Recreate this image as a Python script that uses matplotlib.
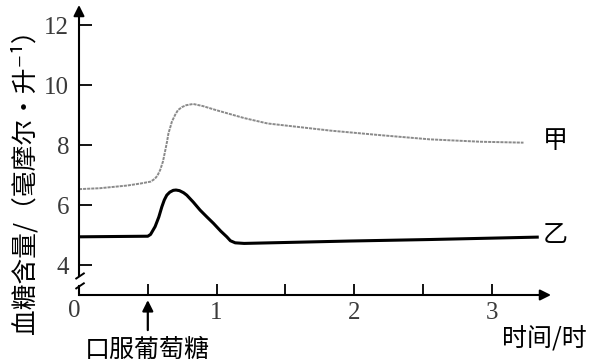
import matplotlib
matplotlib.use('Agg')
import matplotlib.pyplot as plt

# CJK font first, DejaVu for the superscript signs it lacks
plt.rcParams['font.family'] = ['Noto Sans CJK SC', 'DejaVu Sans']

# curve 甲 (grey)
jia_t = [0.0, 0.15, 0.35, 0.45, 0.52, 0.55, 0.57, 0.59, 0.61, 0.625, 0.64, 0.65,
         0.665, 0.675, 0.70, 0.72, 0.75, 0.78, 0.83, 0.9,
         1.0, 1.2, 1.37, 1.6, 1.83, 2.19, 2.55, 2.92, 3.23]
jia_v = [6.53, 6.56, 6.65, 6.72, 6.78, 6.87, 6.98, 7.17, 7.45, 7.78, 8.12, 8.39,
         8.62, 8.78, 9.02, 9.17, 9.27, 9.33, 9.37, 9.3,
         9.16, 8.9, 8.72, 8.6, 8.48, 8.33, 8.19, 8.11, 8.08]

# curve 乙 (black)
yi_t = [0.0, 0.5, 0.52, 0.553, 0.58, 0.602, 0.62, 0.638, 0.66, 0.685, 0.705,
        0.73, 0.76, 0.783, 0.83, 0.88, 0.93, 0.977, 1.03, 1.074, 1.1, 1.135,
        1.2, 1.97, 2.55, 3.33]
yi_v = [4.94, 4.96, 5.02, 5.28, 5.6, 5.94, 6.17, 6.33, 6.43, 6.49, 6.5,
        6.48, 6.41, 6.33, 6.1, 5.83, 5.6, 5.39, 5.13, 4.94, 4.81, 4.74,
        4.72, 4.8, 4.85, 4.93]

y_ticks = [4, 6, 8, 10, 12]
x_ticks = [0.5, 1, 1.5, 2, 2.5, 3]
x_labels = ['', '1', '', '2', '', '3']

xmax = 3.43
ymin, ymax = 3, 12.67

fig = plt.figure(figsize=(6.04, 3.62), dpi=100)
ax = fig.add_axes([79 / 604, 67 / 362, 472 / 604, 290 / 362])
ax.set_xlim(0, xmax)
ax.set_ylim(ymin, ymax)
for s in ax.spines.values():
    s.set_visible(False)

serif = ['Liberation Serif', 'DejaVu Serif']

ax.set_xticks(x_ticks)
ax.set_xticklabels(x_labels)
ax.set_yticks(y_ticks)
ax.set_yticklabels([str(v) for v in y_ticks])
for lab in ax.get_xticklabels() + ax.get_yticklabels():
    lab.set_fontfamily(serif)
    lab.set_fontsize(18)
    lab.set_color('#3a3a3a')
ax.tick_params(axis='x', direction='in', length=8, width=1.3, pad=5)
ax.tick_params(axis='y', direction='in', length=9, width=1.3, pad=7)

# axes drawn by hand: arrows and the break on the y axis
arrow = dict(arrowstyle='-|>', color='black', lw=1.5, mutation_scale=16,
             shrinkA=0, shrinkB=0)
ax.annotate('', xy=(xmax, ymin), xytext=(0, ymin), arrowprops=arrow,
            annotation_clip=False)
ax.annotate('', xy=(0, ymax), xytext=(0, 3.64), arrowprops=arrow,
            annotation_clip=False)
ax.plot([0, 0], [3, 3.3], color='black', lw=1.5, clip_on=False)
ax.plot([-0.02, 0.035], [3.55, 3.72], color='black', lw=1.4, clip_on=False)
ax.plot([-0.02, 0.035], [3.22, 3.39], color='black', lw=1.4, clip_on=False)

ax.plot(jia_t, jia_v, color='#8a8a8a', lw=1.4, ls=(0, (1.6, 0.5)))
ax.plot(yi_t, yi_v, color='black', lw=2.2, solid_joinstyle='round')

ax.text(3.46, 8.15, '甲', fontsize=18, ha='center', va='center')
ax.text(3.46, 5.0, '乙', fontsize=18, ha='center', va='center')

ax.text(-0.035, 2.47, '0', ha='center', va='center', fontfamily=serif,
        fontsize=18, color='#3a3a3a')

# oral glucose marker
ax.annotate('', xy=(0.5, 2.83), xytext=(0.5, 1.83), annotation_clip=False,
            arrowprops=dict(arrowstyle='-|>', color='black', lw=1.6,
                            mutation_scale=16, shrinkA=0, shrinkB=0))
ax.text(0.5, 1.17, '口服葡萄糖', fontsize=18, ha='center', va='center')
ax.text(3.38, 1.5, '时间/时', fontsize=18, ha='center', va='center')

fig.text(25 / 604, 1 - 175 / 362, '血糖含量/（毫摩尔·升⁻¹）', rotation=90,
         fontsize=18.5, ha='center', va='center')

fig.savefig('out.png', dpi=100)
